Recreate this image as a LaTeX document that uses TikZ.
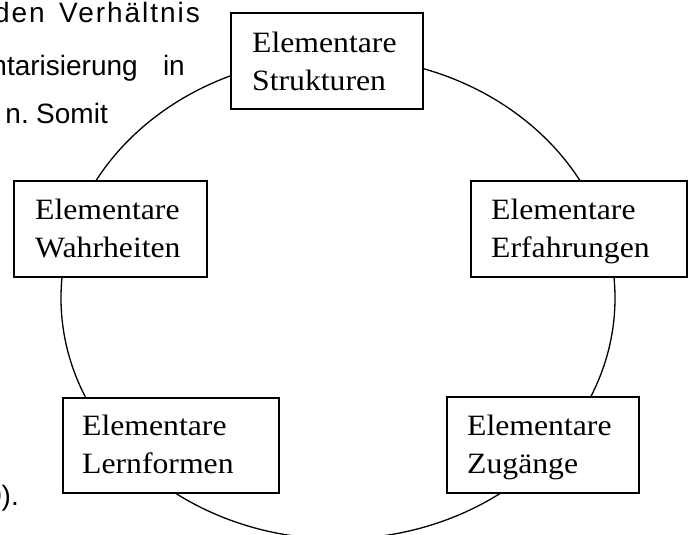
\documentclass[tikz,border=0pt]{standalone}
\usepackage{fontspec}
\setmainfont{Liberation Serif}[FakeStretch=1.075]
\newfontfamily\bodysans{Liberation Sans}
\begin{document}
\begin{tikzpicture}[x=1pt,y=-1pt,
  frame/.style={draw, line width=1.6pt, fill=white, inner sep=0pt, anchor=north west},
  % anchored on the baseline of the second (last) line
  caption/.style={anchor=base west, inner sep=0pt, align=left,
    font=\fontsize{29.5}{38}\selectfont},
  bodytext/.style={anchor=base east, inner sep=0pt,
    font=\bodysans\fontsize{28}{30}\selectfont},
  widetext/.style={bodytext, font=\bodysans\fontsize{28}{30}\selectfont\addfontfeature{LetterSpace=7}}]
\useasboundingbox (0,0) rectangle (693,535);
\clip (0,0) rectangle (693,535);

% fragments of the surrounding running text
\node[widetext] (w1a) at (45,23)  {nden};
\node[widetext] (w1b) at (200,23) {Verhältnis};
\node[bodytext] (w2a) at (138,75) {ntarisierung};
\node[bodytext] (w2b) at (185,75) {in};
\node[bodytext] (w3a) at (29,123) {n.};
\node[bodytext] (w3b) at (108,123) {Somit};
\node[bodytext] (w4)  at (19,505) {0).};

% the cycle
\draw[line width=1.3pt] (338,298) ellipse [x radius=277pt, y radius=241pt];

% the five boxes
\node[frame, minimum width=192pt, minimum height=96pt] (struk) at (230,12)  {};
\node[frame, minimum width=193pt, minimum height=96pt] (wahr)  at (13,180)  {};
\node[frame, minimum width=216pt, minimum height=96pt] (erf)   at (470,180) {};
\node[frame, minimum width=216pt, minimum height=95pt] (lern)  at (62,397)  {};
\node[frame, minimum width=192pt, minimum height=96pt] (zug)   at (446,396) {};

\node[caption] (struk-t) at (252,90)  {Elementare\\Strukturen};
\node[caption] (wahr-t)  at (35,257)  {Elementare\\Wahrheiten};
\node[caption] (erf-t)   at (491,257) {Elementare\\Erfahrungen};
\node[caption] (lern-t)  at (82,473)  {Elementare\\Lernformen};
\node[caption] (zug-t)   at (467,473) {Elementare\\Zugänge};
\end{tikzpicture}
\end{document}
